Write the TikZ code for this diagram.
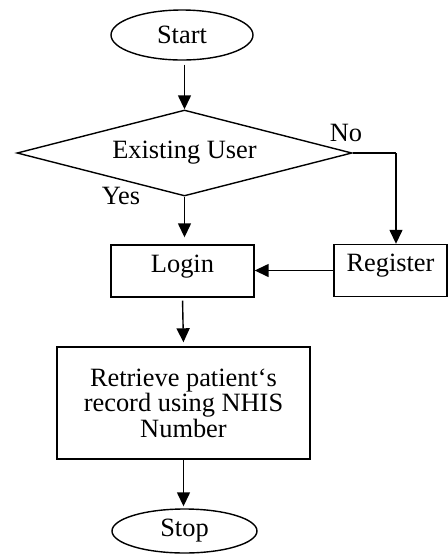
\documentclass[tikz,border=0pt]{standalone}
\usepackage{fontspec}
\setmainfont{Liberation Serif}
\usetikzlibrary{shapes.geometric,arrows.meta}
\tikzset{
	term/.style={draw, ellipse, inner sep=0pt, minimum width=71pt, minimum height=25pt},
	proc/.style={draw, rectangle, inner sep=0pt, minimum height=26pt},
	oneline/.style={text height=9pt, text depth=8pt},
	choice/.style={draw, diamond, aspect=4, inner sep=0pt, minimum width=167.5pt, minimum height=43pt}
}
\begin{document}
\begin{tikzpicture}[>={Triangle[length=7pt,width=6.5pt]}, x=0.5pt, y=-0.5pt, line width=0.7pt, font=\fontsize{13.2}{12.8}\selectfont]
	\useasboundingbox (0,0) rectangle (448,554);
	\node[term] (start) at (182,35) {Start};
	\node[choice] (user) at (184.5,153) {Existing User};
	\node[proc, oneline, minimum width=71.5pt] (login) at (182.5,271) {Login};
	\node[proc, oneline, minimum width=56.5pt] (register) at (390.5,270.5) {Register};
	\node[proc, minimum width=126.5pt, minimum height=56pt, align=center] (record) at (183.5,403) {Retrieve patient‘s\\record using NHIS\\Number};
	\node[term, minimum width=72.5pt, minimum height=22pt] (stop) at (184.5,531) {Stop};
	\coordinate (nobend) at (396,153);
	\node (no) at (346,133) {No};
	\node (yes) at (121,196) {Yes};
	\draw[->, shorten <=2pt] (user.north |- start.south) -- (user.north);
	\draw[->, shorten >=3.5pt] (user.south) -- (user.south |- login.north);
	\draw (user.east) -- (nobend);
	\draw[->] (nobend) -- (nobend |- register.north);
	\draw[->] (register.west) -- (register.west -| login.east);
	\draw[->, shorten <=1.5pt, shorten >=2pt] (login.south) -- (record.north);
	\draw[->, shorten >=1pt] (record.south) -- (record.south |- stop.north);
\end{tikzpicture}
\end{document}
